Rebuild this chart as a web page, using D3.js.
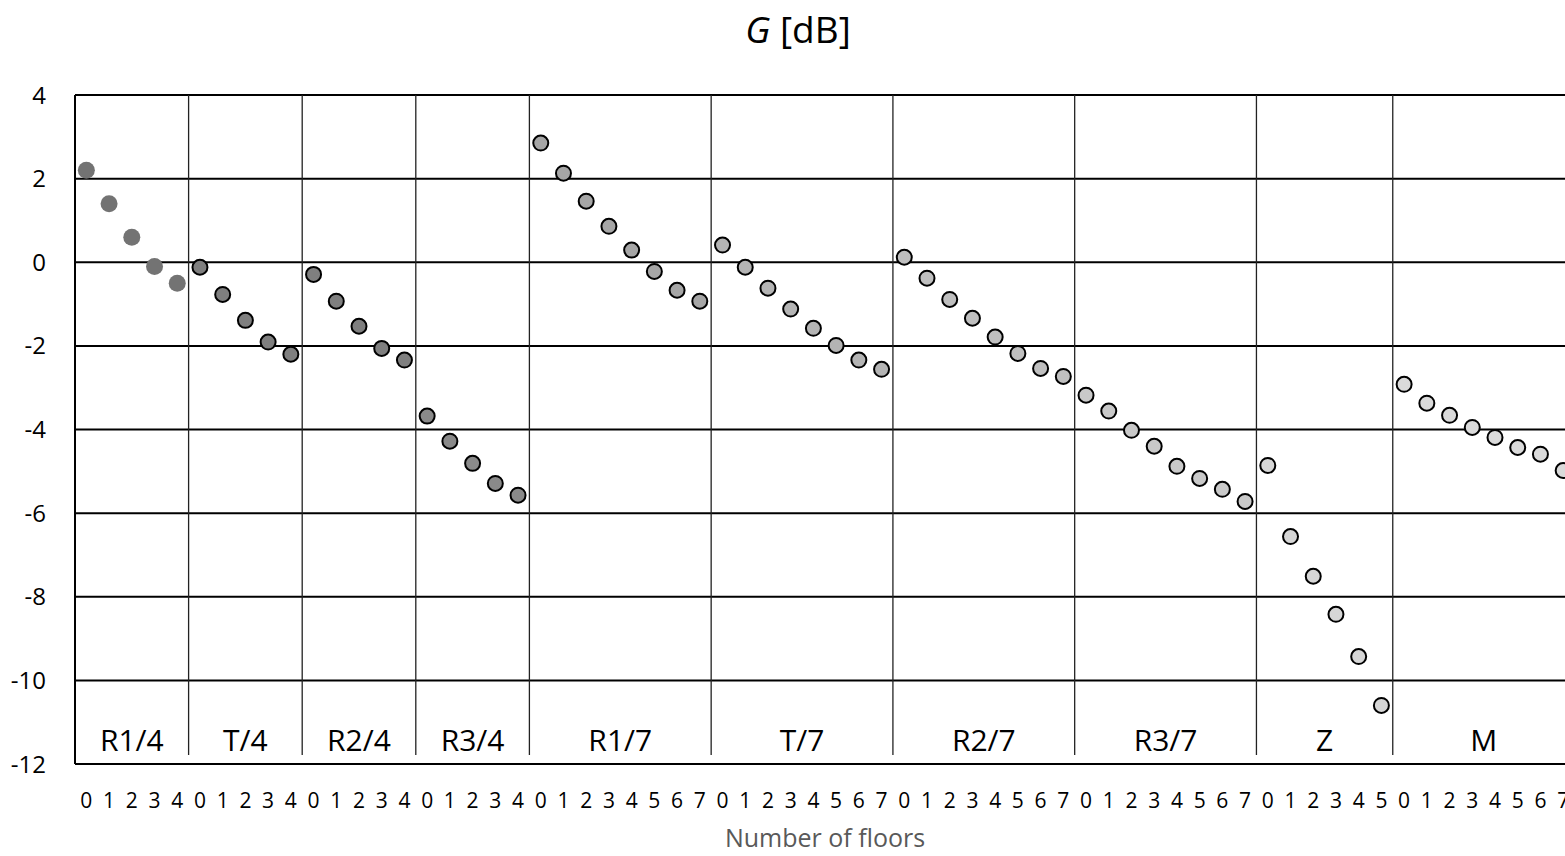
<!DOCTYPE html>
<html>
<head>
<meta charset="utf-8">
<script src="https://cdn.jsdelivr.net/npm/d3@7"></script>
<style>
  body { margin: 0; background: #fff; overflow: hidden; }
  text { font-family: "Open Sans", "Liberation Sans", sans-serif; }
</style>
</head>
<body>
<svg id="chart" width="1565" height="856"></svg>
<script>
// groups of buildings and their G values per number of floors
const groups = ["R1/4", "T/4", "R2/4", "R3/4", "R1/7", "T/7", "R2/7", "R3/7", "Z", "M"];
const groupFill = ["#737373", "#7f7f7f", "#7f7f7f", "#8a8a8a", "#a6a6a6", "#b4b4b4", "#bfbfbf", "#c9c9c9", "#d6d6d6", "#dadada"];
const groupStroke = [false, true, true, true, true, true, true, true, true, true];

const valR14 = [2.2, 1.4, 0.6, -0.1, -0.5];
const valT4 = [-0.12, -0.77, -1.39, -1.91, -2.2];
const valR24 = [-0.29, -0.93, -1.53, -2.06, -2.34];
const valR34 = [-3.68, -4.28, -4.81, -5.29, -5.57];
const valR17 = [2.85, 2.13, 1.46, 0.86, 0.29, -0.22, -0.67, -0.93];
const valT7 = [0.41, -0.12, -0.62, -1.12, -1.58, -1.99, -2.34, -2.56];
const valR27 = [0.12, -0.38, -0.89, -1.34, -1.79, -2.18, -2.54, -2.73];
const valR37 = [-3.18, -3.56, -4.02, -4.4, -4.88, -5.17, -5.43, -5.72];
const valZ = [-4.86, -6.56, -7.51, -8.42, -9.43, -10.6];
const valM = [-2.92, -3.37, -3.66, -3.95, -4.19, -4.43, -4.59, -4.98];
const groupValues = [valR14, valT4, valR24, valR34, valR17, valT7, valR27, valR37, valZ, valM];

const yTicks = [4, 2, 0, -2, -4, -6, -8, -10, -12];

// flatten to one list of points
let points = [];
groupValues.forEach((vals, g) => {
  vals.forEach((v, floor) => {
    points.push({ key: groups[g] + "_" + floor, group: g, floor: floor, value: v });
  });
});

const svg = d3.select("#chart");
const plotLeft = 75, plotTop = 95, plotBottom = 764;
const step = 22.72;
const plotRight = plotLeft + points.length * step;

const x = d3.scaleBand().domain(points.map(d => d.key)).range([plotLeft, plotRight]).padding(0);
const y = d3.scaleLinear().domain([-12, 4]).range([plotBottom, plotTop]);

// horizontal gridlines
svg.append("g").selectAll("line").data(yTicks).enter().append("line")
  .attr("x1", plotLeft).attr("x2", plotRight)
  .attr("y1", d => y(d)).attr("y2", d => y(d))
  .attr("stroke", "#000").attr("stroke-width", 2);

// left axis line
svg.append("line").attr("x1", plotLeft).attr("x2", plotLeft).attr("y1", plotTop).attr("y2", plotBottom)
  .attr("stroke", "#000").attr("stroke-width", 2);

// group separators
const groupStart = groups.map((g, i) => points.find(p => p.group === i).key);
svg.append("g").selectAll("line").data(groupStart.slice(1)).enter().append("line")
  .attr("x1", d => x(d)).attr("x2", d => x(d))
  .attr("y1", plotTop).attr("y2", plotBottom - 9)
  .attr("stroke", "#222").attr("stroke-width", 1.3);

// y tick labels
svg.append("g").selectAll("text").data(yTicks).enter().append("text")
  .attr("x", 46).attr("y", d => y(d) + 8.5)
  .attr("text-anchor", "end").attr("font-size", 24).attr("fill", "#000")
  .text(d => d);

// group labels
svg.append("g").selectAll("text").data(groups).enter().append("text")
  .attr("x", (g, i) => {
    const pts = points.filter(p => p.group === i);
    return (x(pts[0].key) + x(pts[pts.length - 1].key) + x.bandwidth()) / 2;
  })
  .attr("y", 751)
  .attr("text-anchor", "middle").attr("font-size", 30).attr("fill", "#000")
  .text(d => d);

// floor tick labels
svg.append("g").selectAll("text").data(points).enter().append("text")
  .attr("x", d => x(d.key) + x.bandwidth() / 2)
  .attr("y", 808)
  .attr("text-anchor", "middle").attr("font-size", 21).attr("fill", "#000")
  .text(d => d.floor);

// points
svg.append("g").selectAll("circle").data(points).enter().append("circle")
  .attr("cx", d => x(d.key) + x.bandwidth() / 2)
  .attr("cy", d => y(d.value))
  .attr("r", d => groupStroke[d.group] ? 7.5 : 8.5)
  .attr("fill", d => groupFill[d.group])
  .attr("stroke", d => groupStroke[d.group] ? "#000" : "none")
  .attr("stroke-width", 2);

// title
const title = svg.append("text").attr("x", 798).attr("y", 43)
  .attr("text-anchor", "middle").attr("font-size", 37).attr("fill", "#000");
title.append("tspan").attr("font-style", "italic").text("G");
title.append("tspan").text(" [dB]");

// x axis title
svg.append("text").attr("x", 825).attr("y", 847)
  .attr("text-anchor", "middle").attr("font-size", 25).attr("fill", "#595959")
  .text("Number of floors");
</script>
</body>
</html>
